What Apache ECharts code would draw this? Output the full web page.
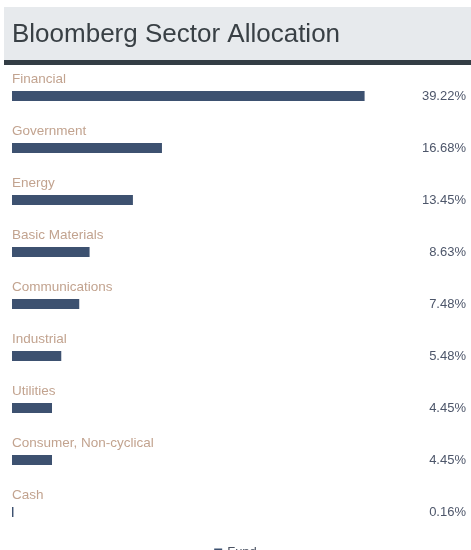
<!DOCTYPE html>
<html><head><meta charset="utf-8">
<script src="https://cdn.jsdelivr.net/npm/echarts@6/dist/echarts.min.js"></script>
<style>html,body{margin:0;padding:0;background:#fff}#c{width:471px;height:550px}</style>
</head><body><div id="c"></div>
<script>
const titleText = 'Bloomberg Sector Allocation';
const categories = ['Financial','Government','Energy','Basic Materials','Communications','Industrial','Utilities','Consumer, Non-cyclical','Cash'];
const fundValues = [39.22,16.68,13.45,8.63,7.48,5.48,4.45,4.45,0.16];
const seriesName = 'Fund';

const chart = echarts.init(document.getElementById('c'), null, {renderer:'canvas'});
const font = 'Helvetica, "Liberation Sans", Arial, sans-serif';
chart.setOption({
  animation: false,
  textStyle: {fontFamily: font},
  graphic: [
    {type:'rect', left:4, top:7, shape:{width:467, height:53}, style:{fill:'#e7eaed'}, z:0},
    {type:'rect', left:4, top:60, shape:{width:467, height:5}, style:{fill:'#333d45'}, z:0},
    {type:'text', left:12, top:22, style:{text:titleText, font:'26px ' + font, fill:'#394045'}, z:1}
  ],
  legend: {
    data:[seriesName], left:'center', top:541, itemWidth:8, itemHeight:8, itemGap:6,
    icon:'rect', textStyle:{fontSize:13, color:'#4a5262', fontFamily:font}
  },
  grid: {left:12, right:5, top:70, bottom:12, containLabel:false},
  xAxis: {type:'value', min:0, max:50.5, show:false},
  yAxis: [
    {type:'category', data:categories, inverse:true, show:false},
    {type:'category', data:fundValues.map(v=>v.toFixed(2)+'%'), inverse:true, position:'right',
     axisLine:{show:false}, axisTick:{show:false},
     axisLabel:{inside:true, margin:0, fontSize:13, color:'#4d566a', fontFamily:font, align:'right'}}
  ],
  series: [{
    name: seriesName, type:'bar', data: fundValues, barWidth:10,
    itemStyle:{color:'#3d5170'},
    label:{show:true, position:[0,-5], align:'left', verticalAlign:'bottom',
      formatter: p => categories[p.dataIndex], fontSize:13.5, color:'#c2a38f', fontFamily:font}
  }]
});
</script></body></html>
